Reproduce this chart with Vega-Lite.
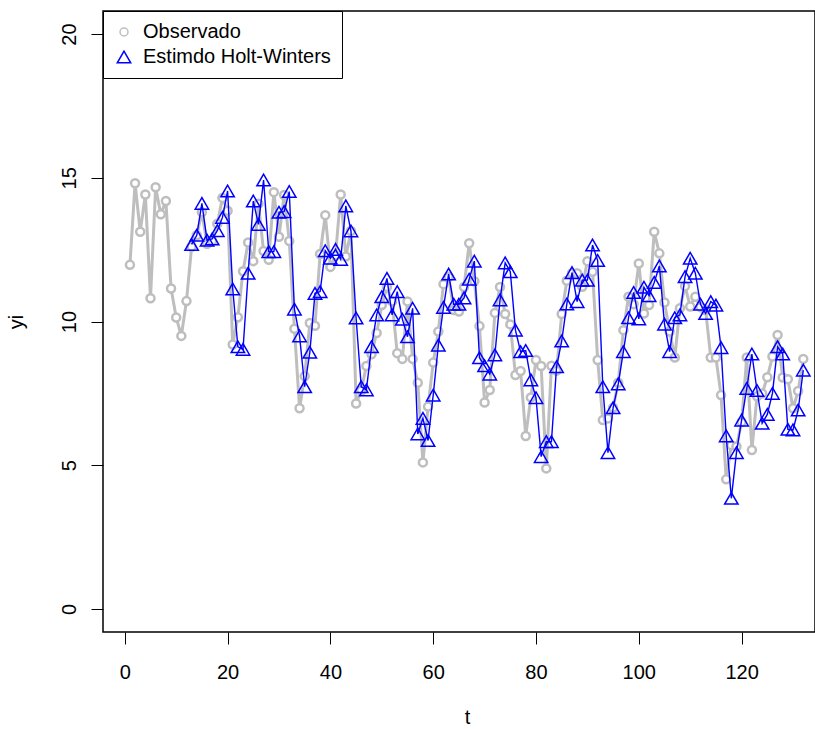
{
 "$schema": "https://vega.github.io/schema/vega-lite/v6.json",
 "width": 712, "height": 621,
 "autosize": {"type": "none"},
 "padding": {"left": 103, "top": 11, "right": 0, "bottom": 97},
 "background": "white",
 "config": {
  "view": {"stroke": "black", "strokeWidth": 1.5},
  "font": "Liberation Sans",
  "axis": {"grid": false, "domain": false, "tickColor": "black", "tickSize": 12, "tickWidth": 1, "labelColor": "black", "labelFontSize": 20, "labelFont": "Liberation Sans", "titleFont": "Liberation Sans", "titleFontSize": 20, "titleFontWeight": "normal", "titleColor": "black"},
  "legend": {"strokeColor": "black", "fillColor": "white", "padding": 11, "labelFontSize": 20, "labelFont": "Liberation Sans", "labelColor": "black", "labelLimit": 400, "rowPadding": 5, "labelOffset": 9, "symbolStrokeWidth": 1.5, "cornerRadius": 0, "strokeWidth": 1, "symbolOpacity": 1}
 },
 "datasets": {
  "obs": [
   {"t":1,"y":11.97},{"t":2,"y":14.81},{"t":3,"y":13.12},{"t":4,"y":14.42},{"t":5,"y":10.81},{"t":6,"y":14.67},{"t":7,"y":13.73},{"t":8,"y":14.19},{"t":9,"y":11.15},{"t":10,"y":10.14},
   {"t":11,"y":9.5},{"t":12,"y":10.71},{"t":13,"y":12.6},{"t":14,"y":13.0},{"t":15,"y":13.8},{"t":16,"y":12.7},{"t":17,"y":12.8},{"t":18,"y":13.4},{"t":19,"y":14.3},{"t":20,"y":13.85},
   {"t":21,"y":9.2},{"t":22,"y":10.15},{"t":23,"y":11.75},{"t":24,"y":12.75},{"t":25,"y":12.1},{"t":26,"y":14.1},{"t":27,"y":12.45},{"t":28,"y":12.15},{"t":29,"y":14.5},{"t":30,"y":12.95},
   {"t":31,"y":14.4},{"t":32,"y":12.8},{"t":33,"y":9.75},{"t":34,"y":6.98},{"t":35,"y":8.1},{"t":36,"y":9.95},{"t":37,"y":9.85},{"t":38,"y":12.35},{"t":39,"y":13.7},{"t":40,"y":11.9},
   {"t":41,"y":12.3},{"t":42,"y":14.42},{"t":43,"y":12.26},{"t":44,"y":13.15},{"t":45,"y":7.15},{"t":46,"y":7.6},{"t":47,"y":8.45},{"t":48,"y":8.86},{"t":49,"y":9.6},{"t":50,"y":10.57},
   {"t":51,"y":11.2},{"t":52,"y":10.7},{"t":53,"y":8.9},{"t":54,"y":8.7},{"t":55,"y":10.7},{"t":56,"y":8.7},{"t":57,"y":7.87},{"t":58,"y":5.1},{"t":59,"y":7.04},{"t":60,"y":8.57},
   {"t":61,"y":9.65},{"t":62,"y":11.3},{"t":63,"y":11.55},{"t":64,"y":10.4},{"t":65,"y":10.35},{"t":66,"y":11.2},{"t":67,"y":12.72},{"t":68,"y":11.4},{"t":69,"y":9.84},{"t":70,"y":7.18},
   {"t":71,"y":7.62},{"t":72,"y":10.3},{"t":73,"y":11.2},{"t":74,"y":10.26},{"t":75,"y":9.9},{"t":76,"y":8.14},{"t":77,"y":8.28},{"t":78,"y":6.02},{"t":79,"y":7.36},{"t":80,"y":8.66},
   {"t":81,"y":8.45},{"t":82,"y":4.89},{"t":83,"y":8.46},{"t":84,"y":8.29},{"t":85,"y":10.26},{"t":86,"y":11.42},{"t":87,"y":11.68},{"t":88,"y":11.68},{"t":89,"y":11.21},{"t":90,"y":12.1},
   {"t":91,"y":11.73},{"t":92,"y":8.66},{"t":93,"y":6.57},{"t":94,"y":6.63},{"t":95,"y":7.0},{"t":96,"y":7.87},{"t":97,"y":9.7},{"t":98,"y":10.86},{"t":99,"y":10.6},{"t":100,"y":12.02},
   {"t":101,"y":10.28},{"t":102,"y":10.57},{"t":103,"y":13.12},{"t":104,"y":12.37},{"t":105,"y":10.66},{"t":106,"y":9.65},{"t":107,"y":8.75},{"t":108,"y":10.46},{"t":109,"y":11.23},{"t":110,"y":10.52},
   {"t":111,"y":10.86},{"t":112,"y":10.5},{"t":113,"y":10.4},{"t":114,"y":8.75},{"t":115,"y":8.75},{"t":116,"y":7.44},{"t":117,"y":4.51},{"t":118,"y":5.7},{"t":119,"y":5.65},{"t":120,"y":6.5},
   {"t":121,"y":8.75},{"t":122,"y":5.53},{"t":123,"y":7.4},{"t":124,"y":7.5},{"t":125,"y":8.06},{"t":126,"y":8.78},{"t":127,"y":9.53},{"t":128,"y":8.05},{"t":129,"y":7.99},{"t":130,"y":6.98},
   {"t":131,"y":7.58},{"t":132,"y":8.7}
  ],
  "hw": [
   {"t":13,"y":12.68},{"t":14,"y":13.0},{"t":15,"y":14.11},{"t":16,"y":12.83},{"t":17,"y":12.87},{"t":18,"y":13.16},{"t":19,"y":13.62},{"t":20,"y":14.54},
   {"t":21,"y":11.13},{"t":22,"y":9.12},{"t":23,"y":9.03},{"t":24,"y":11.68},{"t":25,"y":14.19},{"t":26,"y":13.38},{"t":27,"y":14.92},{"t":28,"y":12.43},{"t":29,"y":12.43},{"t":30,"y":13.8},
   {"t":31,"y":13.82},{"t":32,"y":14.52},{"t":33,"y":10.43},{"t":34,"y":9.5},{"t":35,"y":7.73},{"t":36,"y":8.93},{"t":37,"y":10.98},{"t":38,"y":11.04},{"t":39,"y":12.46},{"t":40,"y":12.2},
   {"t":41,"y":12.51},{"t":42,"y":12.16},{"t":43,"y":14.02},{"t":44,"y":13.15},{"t":45,"y":10.12},{"t":46,"y":7.73},{"t":47,"y":7.62},{"t":48,"y":9.12},{"t":49,"y":10.23},{"t":50,"y":10.86},
   {"t":51,"y":11.5},{"t":52,"y":10.23},{"t":53,"y":11.04},{"t":54,"y":10.08},{"t":55,"y":9.47},{"t":56,"y":10.46},{"t":57,"y":6.09},{"t":58,"y":6.63},{"t":59,"y":5.86},{"t":60,"y":7.44},
   {"t":61,"y":9.18},{"t":62,"y":10.49},{"t":63,"y":11.65},{"t":64,"y":10.6},{"t":65,"y":10.6},{"t":66,"y":10.82},{"t":67,"y":11.47},{"t":68,"y":12.1},{"t":69,"y":8.74},{"t":70,"y":8.46},
   {"t":71,"y":8.17},{"t":72,"y":8.84},{"t":73,"y":10.75},{"t":74,"y":12.04},{"t":75,"y":11.73},{"t":76,"y":9.7},{"t":77,"y":8.95},{"t":78,"y":8.99},{"t":79,"y":7.97},{"t":80,"y":7.35},
   {"t":81,"y":5.3},{"t":82,"y":5.82},{"t":83,"y":5.82},{"t":84,"y":8.43},{"t":85,"y":9.32},{"t":86,"y":10.61},{"t":87,"y":11.7},{"t":88,"y":10.69},{"t":89,"y":11.44},{"t":90,"y":11.44},
   {"t":91,"y":12.66},{"t":92,"y":12.12},{"t":93,"y":7.73},{"t":94,"y":5.44},{"t":95,"y":7.0},{"t":96,"y":7.83},{"t":97,"y":8.95},{"t":98,"y":10.13},{"t":99,"y":11.01},{"t":100,"y":10.09},
   {"t":101,"y":11.19},{"t":102,"y":10.9},{"t":103,"y":11.36},{"t":104,"y":11.93},{"t":105,"y":9.91},{"t":106,"y":8.95},{"t":107,"y":10.13},{"t":108,"y":10.23},{"t":109,"y":11.56},{"t":110,"y":12.2},
   {"t":111,"y":11.68},{"t":112,"y":10.6},{"t":113,"y":10.28},{"t":114,"y":10.69},{"t":115,"y":10.57},{"t":116,"y":9.09},{"t":117,"y":6.02},{"t":118,"y":3.85},{"t":119,"y":5.44},{"t":120,"y":6.57},
   {"t":121,"y":7.67},{"t":122,"y":8.87},{"t":123,"y":7.6},{"t":124,"y":6.46},{"t":125,"y":6.77},{"t":126,"y":7.5},{"t":127,"y":9.12},{"t":128,"y":8.87},{"t":129,"y":6.25},{"t":130,"y":6.23},
   {"t":131,"y":6.92},{"t":132,"y":8.31}
  ]
 },
 "encoding": {
  "x": {"field": "t", "type": "quantitative", "scale": {"domain": [-4.24, 134.28], "nice": false, "zero": false},
   "axis": {"values": [0,20,40,60,80,100,120], "labelPadding": 18, "labelAngle": 0, "labelBaseline": "top", "labelFlush": false, "labelOverlap": false, "title": "t", "titleX": 364, "titleY": 91, "titleAlign": "center", "titleBaseline": "alphabetic"}},
  "y": {"field": "y", "type": "quantitative", "scale": {"domain": [-0.8, 20.8], "nice": false, "zero": false},
   "axis": {"values": [0,5,10,15,20], "labelAngle": -90, "labelAlign": "center", "labelBaseline": "alphabetic", "labelPadding": 16, "labelFlush": false, "labelOverlap": false, "title": "yi", "titleAngle": -90, "titleX": -81, "titleY": 310.5, "titleAlign": "center", "titleBaseline": "alphabetic"}}
 },
 "layer": [
  {"data": {"name": "obs"}, "transform": [{"calculate": "'Observado'", "as": "serie"}],
   "mark": {"type": "line", "color": "#BEBEBE", "strokeWidth": 3}},
  {"data": {"name": "obs"}, "transform": [{"calculate": "'Observado'", "as": "serie"}],
   "mark": {"type": "point", "filled": false, "fill": "white", "strokeWidth": 2.5, "opacity": 1},
   "encoding": {
    "color": {"field": "serie", "type": "nominal", "scale": {"domain": ["Observado", "Estimdo Holt-Winters"], "range": ["#BEBEBE", "#0000FF"]}, "legend": {"title": null, "orient": "none", "legendX": 0, "legendY": 0, "labelLimit": 400}},
    "shape": {"field": "serie", "type": "nominal", "scale": {"domain": ["Observado", "Estimdo Holt-Winters"], "range": ["circle", "triangle-up"]}, "legend": {"title": null, "orient": "none", "legendX": 0, "legendY": 0, "labelLimit": 400}},
    "size": {"field": "serie", "type": "nominal", "scale": {"domain": ["Observado", "Estimdo Holt-Winters"], "range": [64, 180]}, "legend": {"title": null, "orient": "none", "legendX": 0, "legendY": 0, "labelLimit": 400}}
   }},
  {"data": {"name": "hw"}, "transform": [{"calculate": "'Estimdo Holt-Winters'", "as": "serie"}],
   "mark": {"type": "line", "color": "#0000FF", "strokeWidth": 1.4}},
  {"data": {"name": "hw"}, "transform": [{"calculate": "'Estimdo Holt-Winters'", "as": "serie"}],
   "mark": {"type": "point", "filled": false, "strokeWidth": 1.5, "opacity": 1},
   "encoding": {
    "color": {"field": "serie", "type": "nominal"},
    "shape": {"field": "serie", "type": "nominal"},
    "size": {"field": "serie", "type": "nominal"}
   }}
 ]
}
